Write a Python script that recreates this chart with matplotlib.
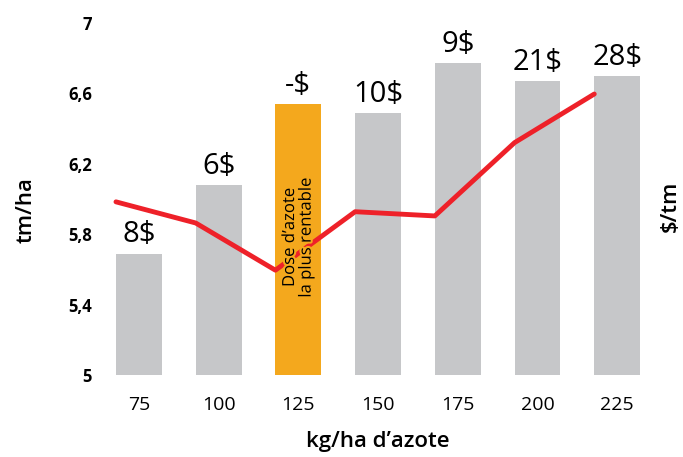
import matplotlib
matplotlib.use("Agg")
import matplotlib.pyplot as plt
import matplotlib.patheffects as pe
import numpy as np

plt.rcParams['font.family'] = ['Open Sans', 'DejaVu Sans']

# Nitrogen doses (kg/ha) and yields (tm/ha)
doses = ["75", "100", "125", "150", "175", "200", "225"]
yields = [5.69, 6.08, 6.54, 6.49, 6.77, 6.67, 6.70]
# Profit labels above each bar
profit_labels = ["8$", "6$", "-$", "10$", "9$", "21$", "28$"]
# Net return curve ($/tm, secondary axis)
returns = [49.2, 43.2, 29.8, 46.4, 45.2, 66.0, 79.8]
best_dose = "125"

GRAY = "#c6c7c9"
ORANGE = "#f4a81d"
RED = "#ee2129"

fig = plt.figure(figsize=(6.83, 4.57), dpi=100)
ax = fig.add_axes([0.145, 0.179, 0.817, 0.771])

x = np.arange(len(doses))
bar_w = 0.575
colors = [ORANGE if d == best_dose else GRAY for d in doses]
ax.bar(x, np.array(yields) - 5, bottom=5, width=bar_w, color=colors, zorder=1)

ax.set_xlim(-0.5, len(doses) - 0.5)
ax.set_ylim(5, 7)
ax.set_yticks([5, 5.4, 5.8, 6.2, 6.6, 7])
ax.set_yticklabels(["5", "5,4", "5,8", "6,2", "6,6", "7"], fontsize=12, fontweight='bold')
ax.set_xticks(x)
ax.set_xticklabels(doses, fontsize=14)
ax.tick_params(length=0)
ax.tick_params(axis='x', pad=15)
ax.tick_params(axis='y', pad=5)
for s in ax.spines.values():
    s.set_visible(False)

ax.set_ylabel("tm/ha", fontsize=16, fontweight='semibold')
ax.yaxis.set_label_coords(-0.112, 0.47)
ax.set_xlabel("kg/ha d\u2019azote", fontsize=16, fontweight='semibold', labelpad=12)

for xi, yv, lab in zip(x, yields, profit_labels):
    ax.annotate(lab, (xi, yv), xytext=(0, 3), textcoords='offset points',
                ha='center', va='bottom', fontsize=21, zorder=5)

# Secondary axis for the return curve
ax2 = ax.twinx()
ax2.set_ylim(0, 100)
ax2.set_yticks([])
for s in ax2.spines.values():
    s.set_visible(False)
ax2.plot(x - bar_w / 2, returns, color=RED, lw=3.5, solid_capstyle='round',
         solid_joinstyle='round', zorder=2)
ax2.set_ylabel("$/tm", fontsize=16, fontweight='semibold')
ax2.yaxis.set_label_coords(1.005, 0.48)

# Annotation inside the highlighted bar
bi = doses.index(best_dose)
ax2.text(bi, 39, "Dose d\u2019azote\nla plus rentable", rotation=90, ha='center', va='center',
         fontsize=12, linespacing=1.05, zorder=6,
         path_effects=[pe.withStroke(linewidth=3, foreground=ORANGE)])

fig.savefig("out.png", dpi=100)
